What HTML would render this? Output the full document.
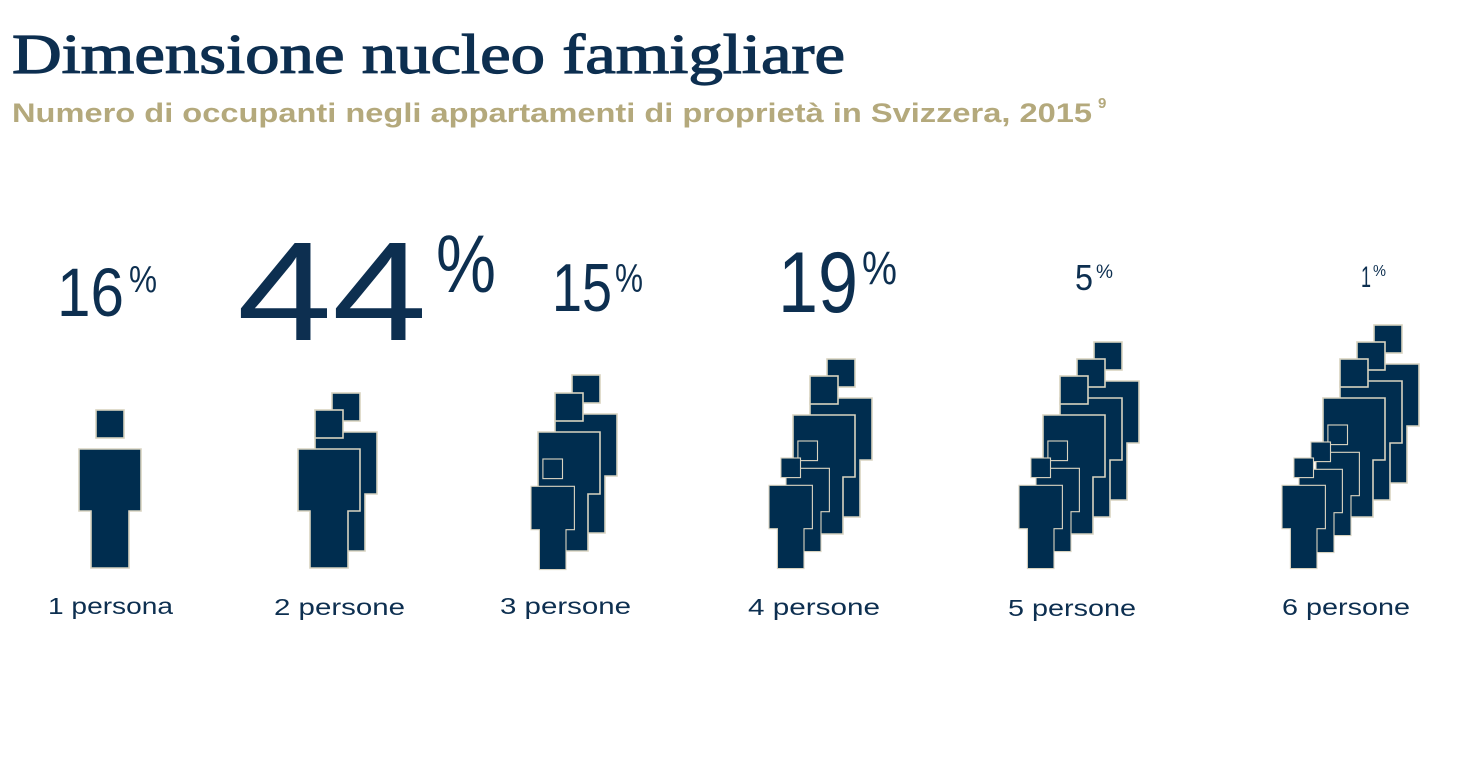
<!DOCTYPE html>
<html><head><meta charset="utf-8"><style>
html,body{margin:0;padding:0;background:#fff;}
svg{display:block;}
</style></head><body>
<svg width="1460" height="760" viewBox="0 0 1460 760" xmlns="http://www.w3.org/2000/svg">
<defs>
<g id="p">
<path d="M0,39H62V101H50V158H12V101H0Z" fill="#002d4f" stroke="#d8d3c0" stroke-width="1.6"/>
<rect x="17" y="0" width="28" height="28" fill="#002d4f" stroke="#d8d3c0" stroke-width="1.6"/>
</g>
</defs>
<text x="12" y="73" font-family="Liberation Serif, serif" font-size="56" fill="#0d2f50" stroke="#0d2f50" stroke-width="1.2" textLength="833" lengthAdjust="spacingAndGlyphs">Dimensione nucleo famigliare</text>
<text x="12" y="122" font-family="Liberation Sans, sans-serif" font-weight="bold" font-size="27" fill="#b4a97c" textLength="1080" lengthAdjust="spacingAndGlyphs">Numero di occupanti negli appartamenti di proprietà in Svizzera, 2015</text>
<text x="1098" y="108" font-family="Liberation Sans, sans-serif" font-weight="bold" font-size="15" fill="#b4a97c">9</text>

<g font-family="Liberation Sans, sans-serif" fill="#0d2f50">
<text x="57" y="316" font-size="69" textLength="67" lengthAdjust="spacingAndGlyphs">16</text>
<text x="129" y="292" font-size="38" textLength="28" lengthAdjust="spacingAndGlyphs">%</text>
<text x="237" y="340" font-size="141" textLength="190" lengthAdjust="spacingAndGlyphs">44</text>
<text x="436" y="292" font-size="82" textLength="60" lengthAdjust="spacingAndGlyphs">%</text>
<text x="552" y="311" font-size="68" textLength="60" lengthAdjust="spacingAndGlyphs">15</text>
<text x="615" y="292" font-size="40" textLength="28" lengthAdjust="spacingAndGlyphs">%</text>
<text x="778" y="312" font-size="86" textLength="80" lengthAdjust="spacingAndGlyphs">19</text>
<text x="862" y="284" font-size="47" textLength="35" lengthAdjust="spacingAndGlyphs">%</text>
<text x="1075" y="290" font-size="36" textLength="18" lengthAdjust="spacingAndGlyphs">5</text>
<text x="1096" y="278" font-size="19" textLength="17" lengthAdjust="spacingAndGlyphs">%</text>
<text x="1361" y="287" font-size="30" textLength="10" lengthAdjust="spacingAndGlyphs">1</text>
<text x="1373" y="276" font-size="16" textLength="13" lengthAdjust="spacingAndGlyphs">%</text>

<g font-size="23">
<text x="48" y="614" textLength="125" lengthAdjust="spacingAndGlyphs">1 persona</text>
<text x="274" y="615" textLength="131" lengthAdjust="spacingAndGlyphs">2 persone</text>
<text x="500" y="614" textLength="131" lengthAdjust="spacingAndGlyphs">3 persone</text>
<text x="748" y="615" textLength="132" lengthAdjust="spacingAndGlyphs">4 persone</text>
<text x="1008" y="616" textLength="128" lengthAdjust="spacingAndGlyphs">5 persone</text>
<text x="1282" y="615" textLength="128" lengthAdjust="spacingAndGlyphs">6 persone</text>
</g>
</g>

<use href="#p" transform="translate(79,410)"/>

<use href="#p" transform="translate(315,393)"/>
<use href="#p" transform="translate(298,410)"/>

<use href="#p" transform="translate(555,375)"/>
<use href="#p" transform="translate(538,393)"/>
<use href="#p" transform="translate(531,459) scale(0.7)"/>

<use href="#p" transform="translate(810,359)"/>
<use href="#p" transform="translate(793,376)"/>
<use href="#p" transform="translate(786,441) scale(0.7)"/>
<use href="#p" transform="translate(769,458) scale(0.7)"/>

<use href="#p" transform="translate(1077,342)"/>
<use href="#p" transform="translate(1060,359)"/>
<use href="#p" transform="translate(1043,376)"/>
<use href="#p" transform="translate(1036,441) scale(0.7)"/>
<use href="#p" transform="translate(1019,458) scale(0.7)"/>

<use href="#p" transform="translate(1357,325)"/>
<use href="#p" transform="translate(1340,342)"/>
<use href="#p" transform="translate(1323,359)"/>
<use href="#p" transform="translate(1316,425) scale(0.7)"/>
<use href="#p" transform="translate(1299,442) scale(0.7)"/>
<use href="#p" transform="translate(1282,458) scale(0.7)"/>
</svg>
</body></html>
